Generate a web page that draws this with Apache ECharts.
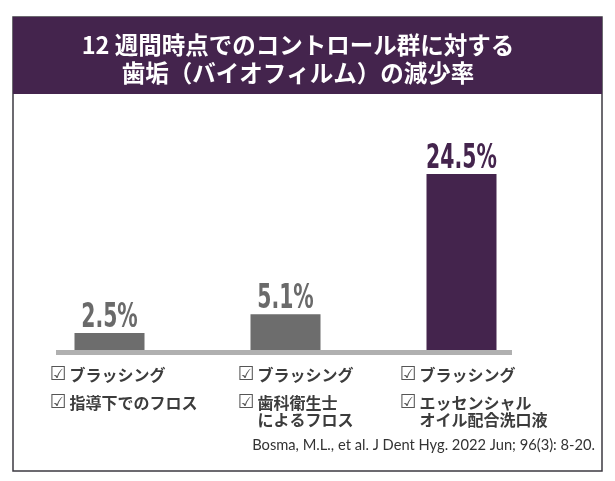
<!DOCTYPE html>
<html>
<head>
<meta charset="utf-8">
<script src="https://cdn.jsdelivr.net/npm/echarts@6/dist/echarts.min.js"></script>
<style>
html,body{margin:0;padding:0;background:#fff;}
#chart{width:615px;height:481px;}
</style>
</head>
<body>
<div id="chart"></div>
<script>
const titleLines = ['12 週間時点でのコントロール群に対する', '歯垢（バイオフィルム）の減少率'];
const categories = ['ブラッシング・指導下でのフロス', 'ブラッシング・歯科衛生士によるフロス', 'ブラッシング・エッセンシャルオイル配合洗口液'];
const checkItems = [
  [['ブラッシング'], ['指導下でのフロス']],
  [['ブラッシング'], ['歯科衛生士', 'によるフロス']],
  [['ブラッシング'], ['エッセンシャル', 'オイル配合洗口液']]
];
const values = [2.5, 5.1, 24.5];
const citation = 'Bosma, M.L., et al. J Dent Hyg. 2022 Jun; 96(3): 8-20.';

const PURPLE = '#44244d';
const GRAY = '#6d6d6d';
const barColors = [GRAY, GRAY, PURPLE];
const valueLabelColors = ['#6a6a6a', '#6a6a6a', PURPLE];
const labelShift = [-60, -48, -62];

const chart = echarts.init(document.getElementById('chart'), null, {renderer: 'canvas'});

function buildLabel(idx) {
  const items = checkItems[idx];
  const out = [];
  items.forEach((lines, i) => {
    const s = i === 0 ? '1' : '2';
    lines.forEach((ln, j) => {
      if (j === 0) out.push('{ck' + s + '|☑}{t' + s + '|' + ln + '}');
      else out.push('{ind' + s + '| }{t' + s + '|' + ln + '}');
    });
  });
  return out.join('\n');
}

const jpFont = '"Noto Sans CJK JP", "Noto Sans", sans-serif';
const ckFont = '"DejaVu Sans", sans-serif';
const rich = {
  ck1: {fontSize: 19, color: '#555', width: 20, lineHeight: 39, align: 'left', fontFamily: ckFont},
  t1: {fontSize: 16, fontWeight: 'bold', color: '#3c3c3c', lineHeight: 39, align: 'left', fontFamily: jpFont},
  ck2: {fontSize: 19, color: '#555', width: 20, lineHeight: 17, align: 'left', fontFamily: ckFont},
  ind2: {fontSize: 16, width: 20, lineHeight: 17, align: 'left'},
  t2: {fontSize: 16, fontWeight: 'bold', color: '#3c3c3c', lineHeight: 17, align: 'left', fontFamily: jpFont}
};

const option = {
  backgroundColor: '#ffffff',
  animation: false,
  title: {
    text: titleLines.join('\n'),
    left: 298,
    top: 31,
    textAlign: 'center',
    padding: 0,
    textStyle: {
      color: '#ffffff',
      fontSize: 23.5,
      fontWeight: 'bold',
      lineHeight: 28,
      fontFamily: jpFont
    }
  },
  grid: {left: 21.5, right: 65.5, top: 134.3, bottom: 130, containLabel: false},
  xAxis: {
    type: 'category',
    data: categories.map((c, i) => ({
      value: c,
      textStyle: {align: 'left', verticalAlign: 'top', padding: [0, 0, 0, labelShift[i]]}
    })),
    axisLine: {show: false},
    axisTick: {show: false},
    axisLabel: {
      interval: 0,
      margin: 4.5,
      align: 'left',
      verticalAlign: 'top',
      formatter: (v, idx) => buildLabel(idx),
      rich: rich
    }
  },
  yAxis: {
    type: 'value',
    min: 0,
    max: 30,
    show: false,
    splitLine: {show: false}
  },
  series: [{
    type: 'bar',
    barWidth: 70,
    data: values.map((v, i) => ({value: v, itemStyle: {color: barColors[i]}}))
  }, {
    type: 'custom',
    z: 5,
    data: values.map((v, i) => [i, v]),
    encode: {x: 0, y: 1},
    renderItem: (params, api) => {
      const idx = api.value(0);
      const val = api.value(1);
      const p = api.coord([idx, val]);
      return {
        type: 'text',
        x: p[0],
        y: p[1] + 2,
        scaleX: 0.6,
        style: {
          text: val.toFixed(1) + '%',
          align: 'center',
          verticalAlign: 'bottom',
          fontFamily: '"DejaVu Sans", sans-serif',
          fontWeight: 'bold',
          fontSize: 34,
          fill: valueLabelColors[idx]
        }
      };
    }
  }],
  graphic: [
    {type: 'rect', z: -1, shape: {x: 13, y: 17, width: 589, height: 454},
     style: {fill: '#ffffff', stroke: '#3d3a42', lineWidth: 1.5}},
    {type: 'rect', z: -1, shape: {x: 13, y: 17, width: 589, height: 77},
     style: {fill: PURPLE}},
    {type: 'line', z: 10, shape: {x1: 56, y1: 352.5, x2: 512, y2: 352.5},
     style: {stroke: '#b0b0b0', lineWidth: 5}},
    {type: 'text', z: 10, x: 595, y: 445,
     style: {text: citation, align: 'right', verticalAlign: 'middle',
             fontSize: 14.7, fill: '#333', fontFamily: 'Lato, "Liberation Sans", sans-serif'}}
  ]
};
chart.setOption(option);
</script>
</body>
</html>
